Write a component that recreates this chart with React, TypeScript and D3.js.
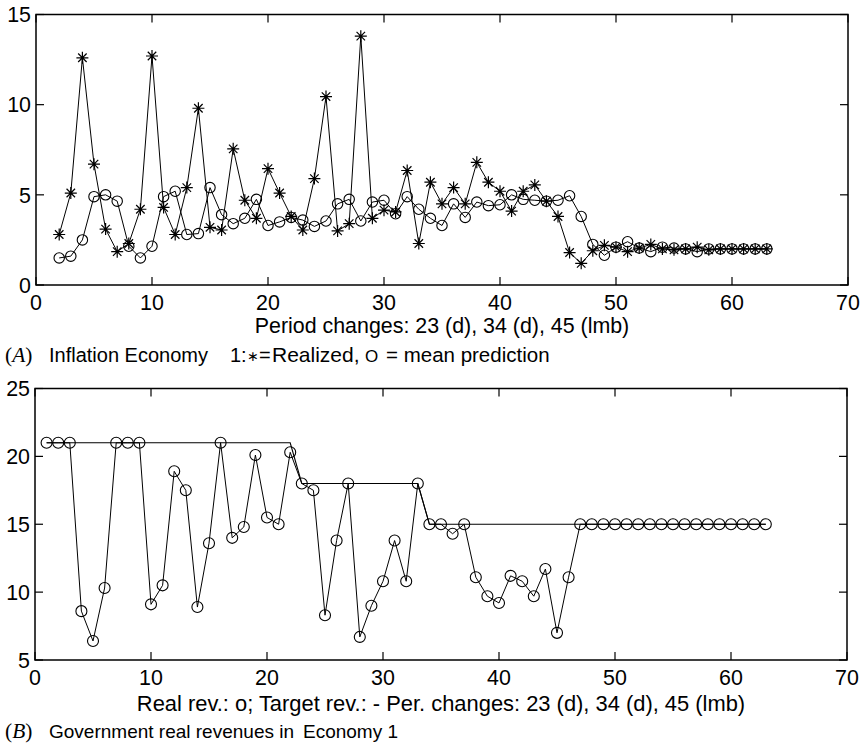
import React from 'react';
import * as d3 from 'd3';

const W = 865;
const H = 747;

// Panel A: inflation in economy 1, periods 2..63
const inflationFirstPeriod = 2;
const inflationRealized = [
  2.8, 5.1, 12.6, 6.7, 3.1, 1.85, 2.3, 4.2, 12.7, 4.3,
  2.8, 5.4, 9.8, 3.2, 3.05, 7.55, 4.7, 3.7, 6.45, 5.1,
  3.8, 3.05, 5.9, 10.45, 3.0, 3.4, 13.8, 3.7, 4.15, 4.05,
  6.35, 2.3, 5.7, 4.5, 5.4, 4.5, 6.8, 5.7, 5.2, 4.1,
  5.2, 5.55, 4.65, 3.8, 1.8, 1.2, 1.9, 2.2, 2.1, 1.85,
  2.05, 2.25, 2.0, 1.95, 2.0, 2.1, 1.95, 2.0, 2.0, 2.0,
  2.0, 2.0,
];
const inflationPredicted = [
  1.5, 1.6, 2.5, 4.9, 5.0, 4.65, 2.15, 1.5, 2.15, 4.9,
  5.2, 2.8, 2.85, 5.4, 3.9, 3.4, 3.7, 4.75, 3.3, 3.5,
  3.75, 3.6, 3.25, 3.55, 4.5, 4.75, 3.55, 4.6, 4.7, 3.95,
  4.9, 4.2, 3.7, 3.3, 4.5, 3.75, 4.6, 4.4, 4.45, 5.0,
  4.75, 4.7, 4.65, 4.7, 4.95, 3.8, 2.25, 1.65, 2.1, 2.4,
  2.05, 1.85, 2.1, 2.05, 2.0, 1.85, 2.0, 2.0, 2.0, 2.0,
  2.0, 2.0,
];

// Panel B: government real revenues, periods 1..63
const revenueFirstPeriod = 1;
const revenueReal = [
  21, 21, 21, 8.6, 6.4, 10.3, 21, 21, 21, 9.1,
  10.5, 18.9, 17.5, 8.9, 13.6, 21, 14.0, 14.8, 20.1, 15.5,
  15.0, 20.3, 18, 17.5, 8.3, 13.8, 18, 6.7, 9.0, 10.8,
  13.8, 10.8, 18, 15, 15, 14.3, 15, 11.1, 9.7, 9.2,
  11.2, 10.8, 9.7, 11.7, 7.0, 11.1, 15, 15, 15, 15,
  15, 15, 15, 15, 15, 15, 15, 15, 15, 15,
  15, 15, 15,
];
const revenueTarget = [
  21, 21, 21, 21, 21, 21, 21, 21, 21, 21,
  21, 21, 21, 21, 21, 21, 21, 21, 21, 21,
  21, 21, 18, 18, 18, 18, 18, 18, 18, 18,
  18, 18, 18, 15, 15, 15, 15, 15, 15, 15,
  15, 15, 15, 15, 15, 15, 15, 15, 15, 15,
  15, 15, 15, 15, 15, 15, 15, 15, 15, 15,
  15, 15, 15,
];

const xTicks = [0, 10, 20, 30, 40, 50, 60, 70];
const yTicksA = [0, 5, 10, 15];
const yTicksB = [5, 10, 15, 20, 25];

const FONT = '"Liberation Sans", Arial, Helvetica, sans-serif';
const SERIF = '"Liberation Serif", "Times New Roman", serif';
const FS = 21.4;
const CAP = 20;
const TICK = 8;

type Pt = [number, number];

function toPoints(values: number[], first: number): Pt[] {
  return values.map((v, i) => [first + i, v] as Pt);
}

function Star({ x, y, r }: { x: number; y: number; r: number }) {
  const d = r * Math.SQRT1_2;
  return (
    <path
      d={`M${x - r},${y}L${x + r},${y}M${x},${y - r}L${x},${y + r}M${x - d},${y - d}L${x + d},${y + d}M${x - d},${y + d}L${x + d},${y - d}`}
      stroke="#000"
      strokeWidth={1.2}
      fill="none"
    />
  );
}

function Frame({
  x,
  y,
  yTicks,
}: {
  x: d3.ScaleLinear<number, number>;
  y: d3.ScaleLinear<number, number>;
  yTicks: number[];
}) {
  const [x0, x1] = x.range();
  const [y0, y1] = y.range(); // y0 bottom, y1 top
  return (
    <g>
      <rect x={x0} y={y1} width={x1 - x0} height={y0 - y1} fill="none" stroke="#000" strokeWidth={1.5} />
      {xTicks.map((t) => (
        <g key={'x' + t}>
          <line x1={x(t)} x2={x(t)} y1={y0} y2={y0 - TICK} stroke="#000" strokeWidth={1.2} />
          <line x1={x(t)} x2={x(t)} y1={y1} y2={y1 + TICK} stroke="#000" strokeWidth={1.2} />
          <text x={x(t)} y={y0 + 25} textAnchor="middle" fontFamily={FONT} fontSize={FS}>
            {t}
          </text>
        </g>
      ))}
      {yTicks.map((t) => (
        <g key={'y' + t}>
          <line x1={x0} x2={x0 + TICK} y1={y(t)} y2={y(t)} stroke="#000" strokeWidth={1.2} />
          <line x1={x1} x2={x1 - TICK} y1={y(t)} y2={y(t)} stroke="#000" strokeWidth={1.2} />
          <text x={x0 - 5} y={y(t)} dy="0.36em" textAnchor="end" fontFamily={FONT} fontSize={FS}>
            {t}
          </text>
        </g>
      ))}
    </g>
  );
}

export default function App() {
  // Panel A scales
  const xA = d3.scaleLinear().domain([0, 70]).range([36, 848]);
  const yA = d3.scaleLinear().domain([0, 15]).range([285, 14.5]);
  // Panel B scales
  const xB = d3.scaleLinear().domain([0, 70]).range([35, 847]);
  const yB = d3.scaleLinear().domain([5, 25]).range([660, 388.5]);

  const lineA = d3.line<Pt>().x((d) => xA(d[0])).y((d) => yA(d[1]));
  const lineB = d3.line<Pt>().x((d) => xB(d[0])).y((d) => yB(d[1]));

  const realized = toPoints(inflationRealized, inflationFirstPeriod);
  const predicted = toPoints(inflationPredicted, inflationFirstPeriod);
  const revReal = toPoints(revenueReal, revenueFirstPeriod);
  const revTarget = toPoints(revenueTarget, revenueFirstPeriod);

  return (
    <svg
      width={W}
      height={H}
      viewBox={`0 0 ${W} ${H}`}
      style={{ position: 'absolute', left: 0, top: 0, background: '#fff' }}
    >
      <rect x={0} y={0} width={W} height={H} fill="#fff" />

      {/* Panel A */}
      <Frame x={xA} y={yA} yTicks={yTicksA} />
      <path d={lineA(predicted) ?? ''} fill="none" stroke="#000" strokeWidth={1} />
      <path d={lineA(realized) ?? ''} fill="none" stroke="#000" strokeWidth={1} />
      {predicted.map((d, i) => (
        <circle key={'p' + i} cx={xA(d[0])} cy={yA(d[1])} r={5.2} fill="none" stroke="#000" strokeWidth={1.1} />
      ))}
      {realized.map((d, i) => (
        <Star key={'r' + i} x={xA(d[0])} y={yA(d[1])} r={6} />
      ))}
      <text x={442} y={333} textAnchor="middle" fontFamily={FONT} fontSize={FS}>
        Period changes: 23 (d), 34 (d), 45 (lmb)
      </text>
      <text x={5} y={362} fontFamily={SERIF} fontSize={FS}>
        (<tspan fontStyle="italic">A</tspan>)
      </text>
      <text x={49} y={362} fontFamily={FONT} fontSize={CAP}>Inflation Economy</text>
      <text x={230} y={362} fontFamily={FONT} fontSize={CAP}>1:</text>
      <text x={247} y={361} fontFamily={FONT} fontSize={14}>∗</text>
      <text x={259} y={362} fontFamily={FONT} fontSize={CAP}>=</text>
      <text x={272} y={362} fontFamily={FONT} fontSize={21}>Realized,</text>
      <text x={365} y={362} fontFamily={FONT} fontSize={17}>O</text>
      <text x={386} y={362} fontFamily={FONT} fontSize={20.5}>= mean prediction</text>

      {/* Panel B */}
      <Frame x={xB} y={yB} yTicks={yTicksB} />
      <path d={lineB(revTarget) ?? ''} fill="none" stroke="#000" strokeWidth={1.1} />
      <path d={lineB(revReal) ?? ''} fill="none" stroke="#000" strokeWidth={1} />
      {revReal.map((d, i) => (
        <circle key={'b' + i} cx={xB(d[0])} cy={yB(d[1])} r={5.5} fill="none" stroke="#000" strokeWidth={1.1} />
      ))}
      <text x={441} y={711} textAnchor="middle" fontFamily={FONT} fontSize={21.9}>
        Real rev.: o; Target rev.: - Per. changes: 23 (d), 34 (d), 45 (lmb)
      </text>
      <text x={5} y={738} fontFamily={SERIF} fontSize={FS}>
        (<tspan fontStyle="italic">B</tspan>)
      </text>
      <text x={49} y={738} fontFamily={FONT} fontSize={19}>Government real revenues in</text>
      <text x={303} y={738} fontFamily={FONT} fontSize={19}>Economy 1</text>
    </svg>
  );
}
